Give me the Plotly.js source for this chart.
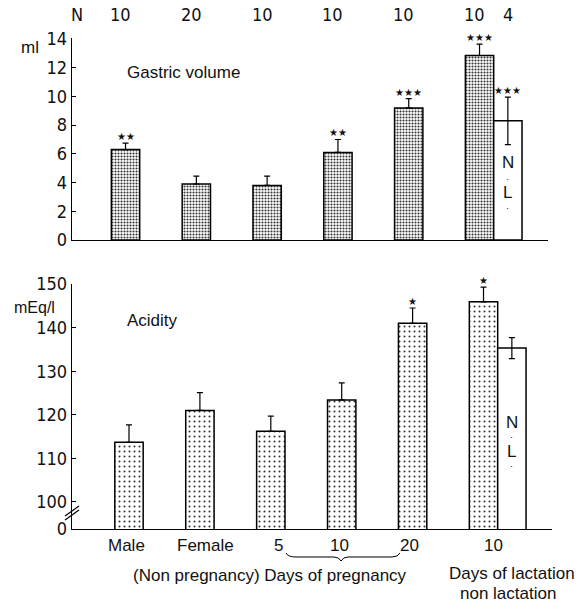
<!DOCTYPE html>
<html>
<head>
<meta charset="utf-8">
<script src="https://cdn.plot.ly/plotly-3.0.1.min.js"></script>
<style>html,body{margin:0;padding:0;background:#fff;}#chart{width:578px;height:602px;}</style>
</head>
<body>
<div id="chart"></div>
<script>
// ---- data ----
const groups = ["Male", "Female", "5", "10", "20", "10"];
const nCounts = [10, 20, 10, 10, 10, 10];
const nNonLact = 4;

const volume = [6.3, 3.9, 3.8, 6.1, 9.2, 12.85];
const volumeErr = [0.45, 0.55, 0.65, 0.9, 0.65, 0.8];
const volumeSig = ["★★", "", "", "★★", "★★★", "★★★"];
const volumeNL = 8.3;
const volumeNLErr = 1.65;
const volumeNLSig = "★★★";

const acidity = [113.7, 121.0, 116.2, 123.4, 141.0, 145.9];
const acidityErr = [4.0, 4.1, 3.5, 3.9, 3.5, 3.4];
const aciditySig = ["", "", "", "", "★", "★"];
const acidityNL = 135.3;
const acidityNLErr = 2.4;

// ---- layout helpers ----
const W = 578, H = 602;
const px = v => v / W;
const py = v => 1 - v / H;
const idx = groups.map((_, i) => i);
const numFont = {family: "DejaVu Sans Condensed, Liberation Sans Narrow, sans-serif", size: 18, color: "#111"};
const txtFont = {family: "Liberation Sans, Arial, sans-serif", size: 17, color: "#111"};
const starFont = {family: "DejaVu Sans", size: 10, color: "#111"};
const BW = 0.4;
const nlX = groups.length - 1 + BW;   // centre of the non-lactation bar

const patTop = {shape: ".", fgcolor: "#333", bgcolor: "#fff", size: 3, solidity: 0.38};
const patBot = {shape: ".", fgcolor: "#333", bgcolor: "#fff", size: 5, solidity: 0.13};
const outline = {color: "#000", width: 1.5};

const traces = [
  {type: "bar", x: idx, y: volume, width: BW, xaxis: "x", yaxis: "y",
   marker: {color: "#fff", line: outline, pattern: patTop},
   error_y: {type: "data", symmetric: false, array: volumeErr, arrayminus: volumeErr.map(() => 0), color: "#000", thickness: 1.2, width: 3}},
  {type: "bar", x: [nlX], y: [volumeNL], width: BW, xaxis: "x", yaxis: "y",
   marker: {color: "#fff", line: outline},
   error_y: {type: "data", array: [volumeNLErr], color: "#000", thickness: 1.2, width: 3}},
  {type: "bar", x: idx, y: acidity, width: BW, xaxis: "x2", yaxis: "y2",
   marker: {color: "#fff", line: outline, pattern: patBot},
   error_y: {type: "data", symmetric: false, array: acidityErr, arrayminus: acidityErr.map(() => 0), color: "#000", thickness: 1.2, width: 3}},
  {type: "bar", x: [nlX], y: [acidityNL], width: BW, xaxis: "x2", yaxis: "y2",
   marker: {color: "#fff", line: outline},
   error_y: {type: "data", array: [acidityNLErr], color: "#000", thickness: 1.2, width: 3}}
];

const annotations = [];
const ann = o => annotations.push(Object.assign({showarrow: false, font: txtFont, xanchor: "center", yanchor: "middle"}, o));

// significance stars
volume.forEach((v, i) => { if (volumeSig[i]) ann({xref: "x", yref: "y", x: i, y: v + volumeErr[i], yanchor: "bottom", yshift: -1, text: volumeSig[i], font: starFont}); });
ann({xref: "x", yref: "y", x: nlX, y: volumeNL + volumeNLErr, yanchor: "bottom", yshift: -1, text: volumeNLSig, font: starFont});
acidity.forEach((v, i) => { if (aciditySig[i]) ann({xref: "x2", yref: "y2", x: i, y: v + acidityErr[i], yanchor: "bottom", yshift: -1, text: aciditySig[i], font: starFont}); });

// N counts
ann({xref: "paper", yref: "paper", x: px(77), y: py(15), text: "N", font: numFont});
nCounts.forEach((n, i) => ann({xref: "x", yref: "paper", x: i, xshift: -5, y: py(15), text: String(n), font: numFont}));
ann({xref: "x", yref: "paper", x: nlX, y: py(15), text: String(nNonLact), font: numFont});

// N.L. labels in the non-lactation bars
[["x", [162, 179, 193, 208]], ["x2", [422, 437, 451, 466]]].forEach(([xr, ys]) => {
  ["N", "·", "L", "·"].forEach((t, k) => ann({xref: xr, yref: "paper", x: nlX, y: py(ys[k]), text: t, font: {family: txtFont.family, size: t === "·" ? 9 : 17, color: "#111"}}));
});

// x category labels
const labShift = [-3, 6, 8, -2, -3, 10];
groups.forEach((g, i) => ann({xref: "x2", yref: "paper", x: i, xshift: labShift[i], y: py(545), text: g, font: txtFont}));

// titles / units / captions
ann({xref: "paper", yref: "paper", x: px(30), y: py(47), text: "ml", font: txtFont});
ann({xref: "paper", yref: "paper", x: px(34), y: py(307), text: "mEq/l", font: {family: txtFont.family, size: 16, color: "#111"}});
ann({xref: "paper", yref: "paper", x: px(183), y: py(73), text: "Gastric volume", font: txtFont});
ann({xref: "paper", yref: "paper", x: px(152), y: py(320), text: "Acidity", font: txtFont});
ann({xref: "paper", yref: "paper", x: px(270), y: py(575), text: "(Non pregnancy) Days of pregnancy", font: txtFont});
ann({xref: "paper", yref: "paper", x: px(512), y: py(573), text: "Days of lactation", font: txtFont});
ann({xref: "paper", yref: "paper", x: px(508), y: py(593), text: "non lactation", font: txtFont});

const shapes = [
  // axis break marks
  {type: "line", xref: "paper", yref: "paper", x0: px(65), y0: py(516), x1: px(79), y1: py(506), line: {color: "#000", width: 1.2}},
  {type: "line", xref: "paper", yref: "paper", x0: px(65), y0: py(520), x1: px(79), y1: py(510), line: {color: "#000", width: 1.2}},
  // brace under pregnancy days
  {type: "path", xref: "paper", yref: "paper",
   path: `M ${px(286)} ${py(553)} Q ${px(288)} ${py(557)} ${px(296)} ${py(557)} L ${px(334)} ${py(557)} Q ${px(339)} ${py(557)} ${px(341)} ${py(561)} Q ${px(343)} ${py(557)} ${px(348)} ${py(557)} L ${px(392)} ${py(557)} Q ${px(398)} ${py(557)} ${px(400)} ${py(553)}`,
   line: {color: "#000", width: 1}}
];

const axisCommon = {showline: true, linecolor: "#000", linewidth: 1.3, showgrid: false, zeroline: false, fixedrange: true};

const layout = {
  width: W, height: H,
  margin: {l: 0, r: 0, t: 0, b: 0},
  paper_bgcolor: "#fff", plot_bgcolor: "rgba(0,0,0,0)",
  showlegend: false,
  barmode: "overlay",
  xaxis: Object.assign({}, axisCommon, {domain: [px(72), px(548)], range: [-0.756, 5.967], showticklabels: false, ticks: "", anchor: "y"}),
  yaxis: Object.assign({}, axisCommon, {domain: [py(240), py(38)], range: [0, 14.07], tickvals: [0, 2, 4, 6, 8, 10, 12, 14], ticks: "inside", ticklen: 4, tickcolor: "#000", tickfont: numFont, anchor: "x"}),
  xaxis2: Object.assign({}, axisCommon, {domain: [px(72), px(552)], range: [-0.804, 5.966], showticklabels: false, ticks: "", anchor: "y2"}),
  yaxis2: Object.assign({}, axisCommon, {domain: [py(529), py(284)], range: [93.8, 150.0], tickvals: [93.8, 100, 110, 120, 130, 140, 150], ticktext: ["0", "100", "110", "120", "130", "140", "150"], ticks: "inside", ticklen: 4, tickcolor: "#000", tickfont: numFont, anchor: "x2"}),
  annotations: annotations,
  shapes: shapes
};

Plotly.newPlot("chart", traces, layout, {displayModeBar: false, staticPlot: true});
</script>
</body>
</html>
